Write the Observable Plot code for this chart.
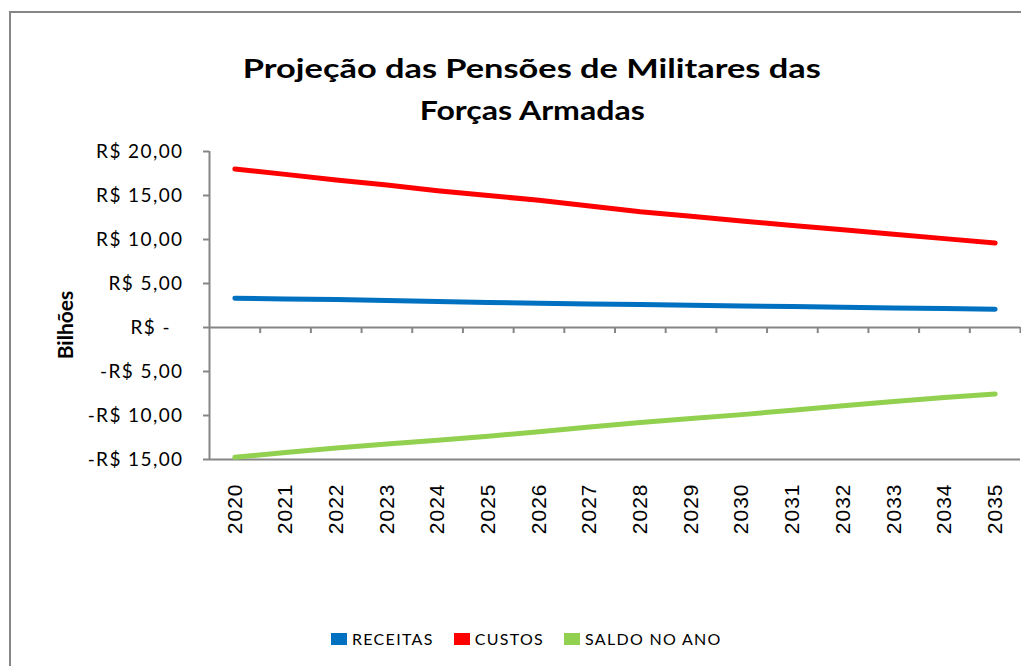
<!DOCTYPE html>
<html>
<head>
<meta charset="utf-8">
<script src="https://cdn.jsdelivr.net/npm/d3@7"></script>
<script src="https://cdn.jsdelivr.net/npm/@observablehq/plot@0.6"></script>
<style>
  html, body { margin: 0; padding: 0; background: #fff; }
  #wrap { position: relative; width: 1021px; height: 666px; overflow: hidden; background: #fff; font-family: Lato, "Open Sans", sans-serif; }
  #border { position: absolute; left: 9px; top: 11px; width: 1100px; height: 700px; border-left: 2.5px solid #868686; border-top: 2px solid #868686; box-sizing: border-box; }
  #title { position: absolute; left: 0; top: 47px; width: 1064px; text-align: center; font-weight: 700; font-size: 26px; line-height: 42px; color: #000; }
  #title span { display: inline-block; white-space: nowrap; transform-origin: center; }
  #chart { position: absolute; left: 0; top: 0; }
  #ylabel { position: absolute; left: 64px; top: 325px; transform: translate(-50%, -50%) rotate(-90deg); font-weight: 700; font-size: 21px; white-space: nowrap; }
  #legend { position: absolute; left: 331px; top: 629px; display: flex; align-items: center; font-size: 16px; letter-spacing: 1.3px; color: #000; }
  #legend .item { display: flex; align-items: center; margin-right: 20px; }
  #legend .sw { width: 16px; height: 12px; margin-right: 5px; }
  g[aria-label="y-axis tick label"] text { letter-spacing: 1.4px; }
  g[aria-label="x-axis tick label"] text { letter-spacing: 1px; }
</style>
</head>
<body>
<div id="wrap">
  <div id="border"></div>
  <div id="title"><span id="t1"></span><br><span id="t2"></span></div>
  <div id="chart"></div>
  <div id="ylabel"></div>
  <div id="legend"></div>
</div>
<script>
// ---- data ----
const titleLines = ["Projeção das Pensões de Militares das", "Forças Armadas"];
const yTitle = "Bilhões";
const years = [2020, 2021, 2022, 2023, 2024, 2025, 2026, 2027, 2028, 2029, 2030, 2031, 2032, 2033, 2034, 2035];
const receitas = [3.33, 3.25, 3.17, 3.06, 2.95, 2.85, 2.75, 2.68, 2.60, 2.52, 2.45, 2.38, 2.30, 2.22, 2.15, 2.08];
const custos = [18.0, 17.4, 16.75, 16.2, 15.55, 15.0, 14.45, 13.8, 13.15, 12.65, 12.1, 11.6, 11.1, 10.6, 10.1, 9.6];
const saldo = [-14.75, -14.2, -13.7, -13.25, -12.8, -12.35, -11.85, -11.3, -10.8, -10.35, -9.9, -9.4, -8.9, -8.4, -7.95, -7.55];
const seriesNames = ["RECEITAS", "CUSTOS", "SALDO NO ANO"];
const seriesColors = ["#0070C0", "#FF0000", "#92D050"];
const yTicks = [20, 15, 10, 5, 0, -5, -10, -15];
const yTickLabels = ["R$ 20,00", "R$ 15,00", "R$ 10,00", "R$ 5,00", "R$ -\u00a0\u00a0", "-R$ 5,00", "-R$ 10,00", "-R$ 15,00"];

// ---- build table ----
const seriesValues = [receitas, custos, saldo];
const rows = [];
seriesNames.forEach((name, s) => {
  years.forEach((yr, i) => rows.push({serie: name, year: yr, value: seriesValues[s][i]}));
});
const boundaries = years.map(y => y - 0.5).concat([years[years.length - 1] + 0.5]);

const W = 1021, H = 666, mT = 151, mB = 207, mL = 209, mR = 1;
const yDomain = [yTicks[yTicks.length - 1], yTicks[0]];
const plotH = H - mT - mB;
const tickLen = 6 * (yDomain[1] - yDomain[0]) / plotH; // 6px in data units
const gray = "#868686";

const chart = Plot.plot({
  width: W, height: H,
  marginTop: mT, marginBottom: mB, marginLeft: mL, marginRight: mR,
  style: {fontFamily: "Lato, 'Open Sans', sans-serif", fontSize: "19px", color: "#000", background: "transparent"},
  x: {type: "linear", domain: [boundaries[0], boundaries[boundaries.length - 1]]},
  y: {domain: yDomain},
  color: {domain: seriesNames, range: seriesColors},
  marks: [
    Plot.ruleY([0, yDomain[0]], {stroke: gray, strokeWidth: 2}),
    Plot.ruleX([boundaries[0]], {stroke: gray, strokeWidth: 2}),
    Plot.ruleX(boundaries.slice(1), {x: d => d, y1: 0, y2: -tickLen, stroke: gray, strokeWidth: 2}),
    Plot.axisY({ticks: yTicks, label: null, tickSize: 6, tickPadding: 20, strokeWidth: 2, stroke: gray, fill: "#000",
      tickFormat: d => yTickLabels[yTicks.indexOf(d)], fontSize: 19}),
    Plot.axisX({ticks: years, label: null, tickSize: 0, tickPadding: 24, tickRotate: -90, tickFormat: d => String(d),
      fontSize: 21, fontFamily: "'Liberation Sans', Arial, sans-serif", fill: "#000"}),
    Plot.line(rows, {x: "year", y: "value", z: "serie", stroke: "serie", strokeWidth: 5, strokeLinecap: "round", strokeLinejoin: "round"})
  ]
});
document.getElementById("chart").appendChild(chart);

// title
const t1 = document.getElementById("t1"), t2 = document.getElementById("t2");
t1.textContent = titleLines[0];
t2.textContent = titleLines[1];
const targets = [578, 225];
[t1, t2].forEach((el, i) => {
  const w = el.getBoundingClientRect().width;
  if (w > 0) el.style.transform = `scaleX(${targets[i] / w})`;
});
document.getElementById("ylabel").textContent = yTitle;

// legend
const leg = document.getElementById("legend");
seriesNames.forEach((name, i) => {
  const it = document.createElement("div");
  it.className = "item";
  const sw = document.createElement("div");
  sw.className = "sw";
  sw.style.background = seriesColors[i];
  const tx = document.createElement("span");
  tx.textContent = name;
  it.appendChild(sw); it.appendChild(tx);
  leg.appendChild(it);
});
</script>
</body>
</html>
